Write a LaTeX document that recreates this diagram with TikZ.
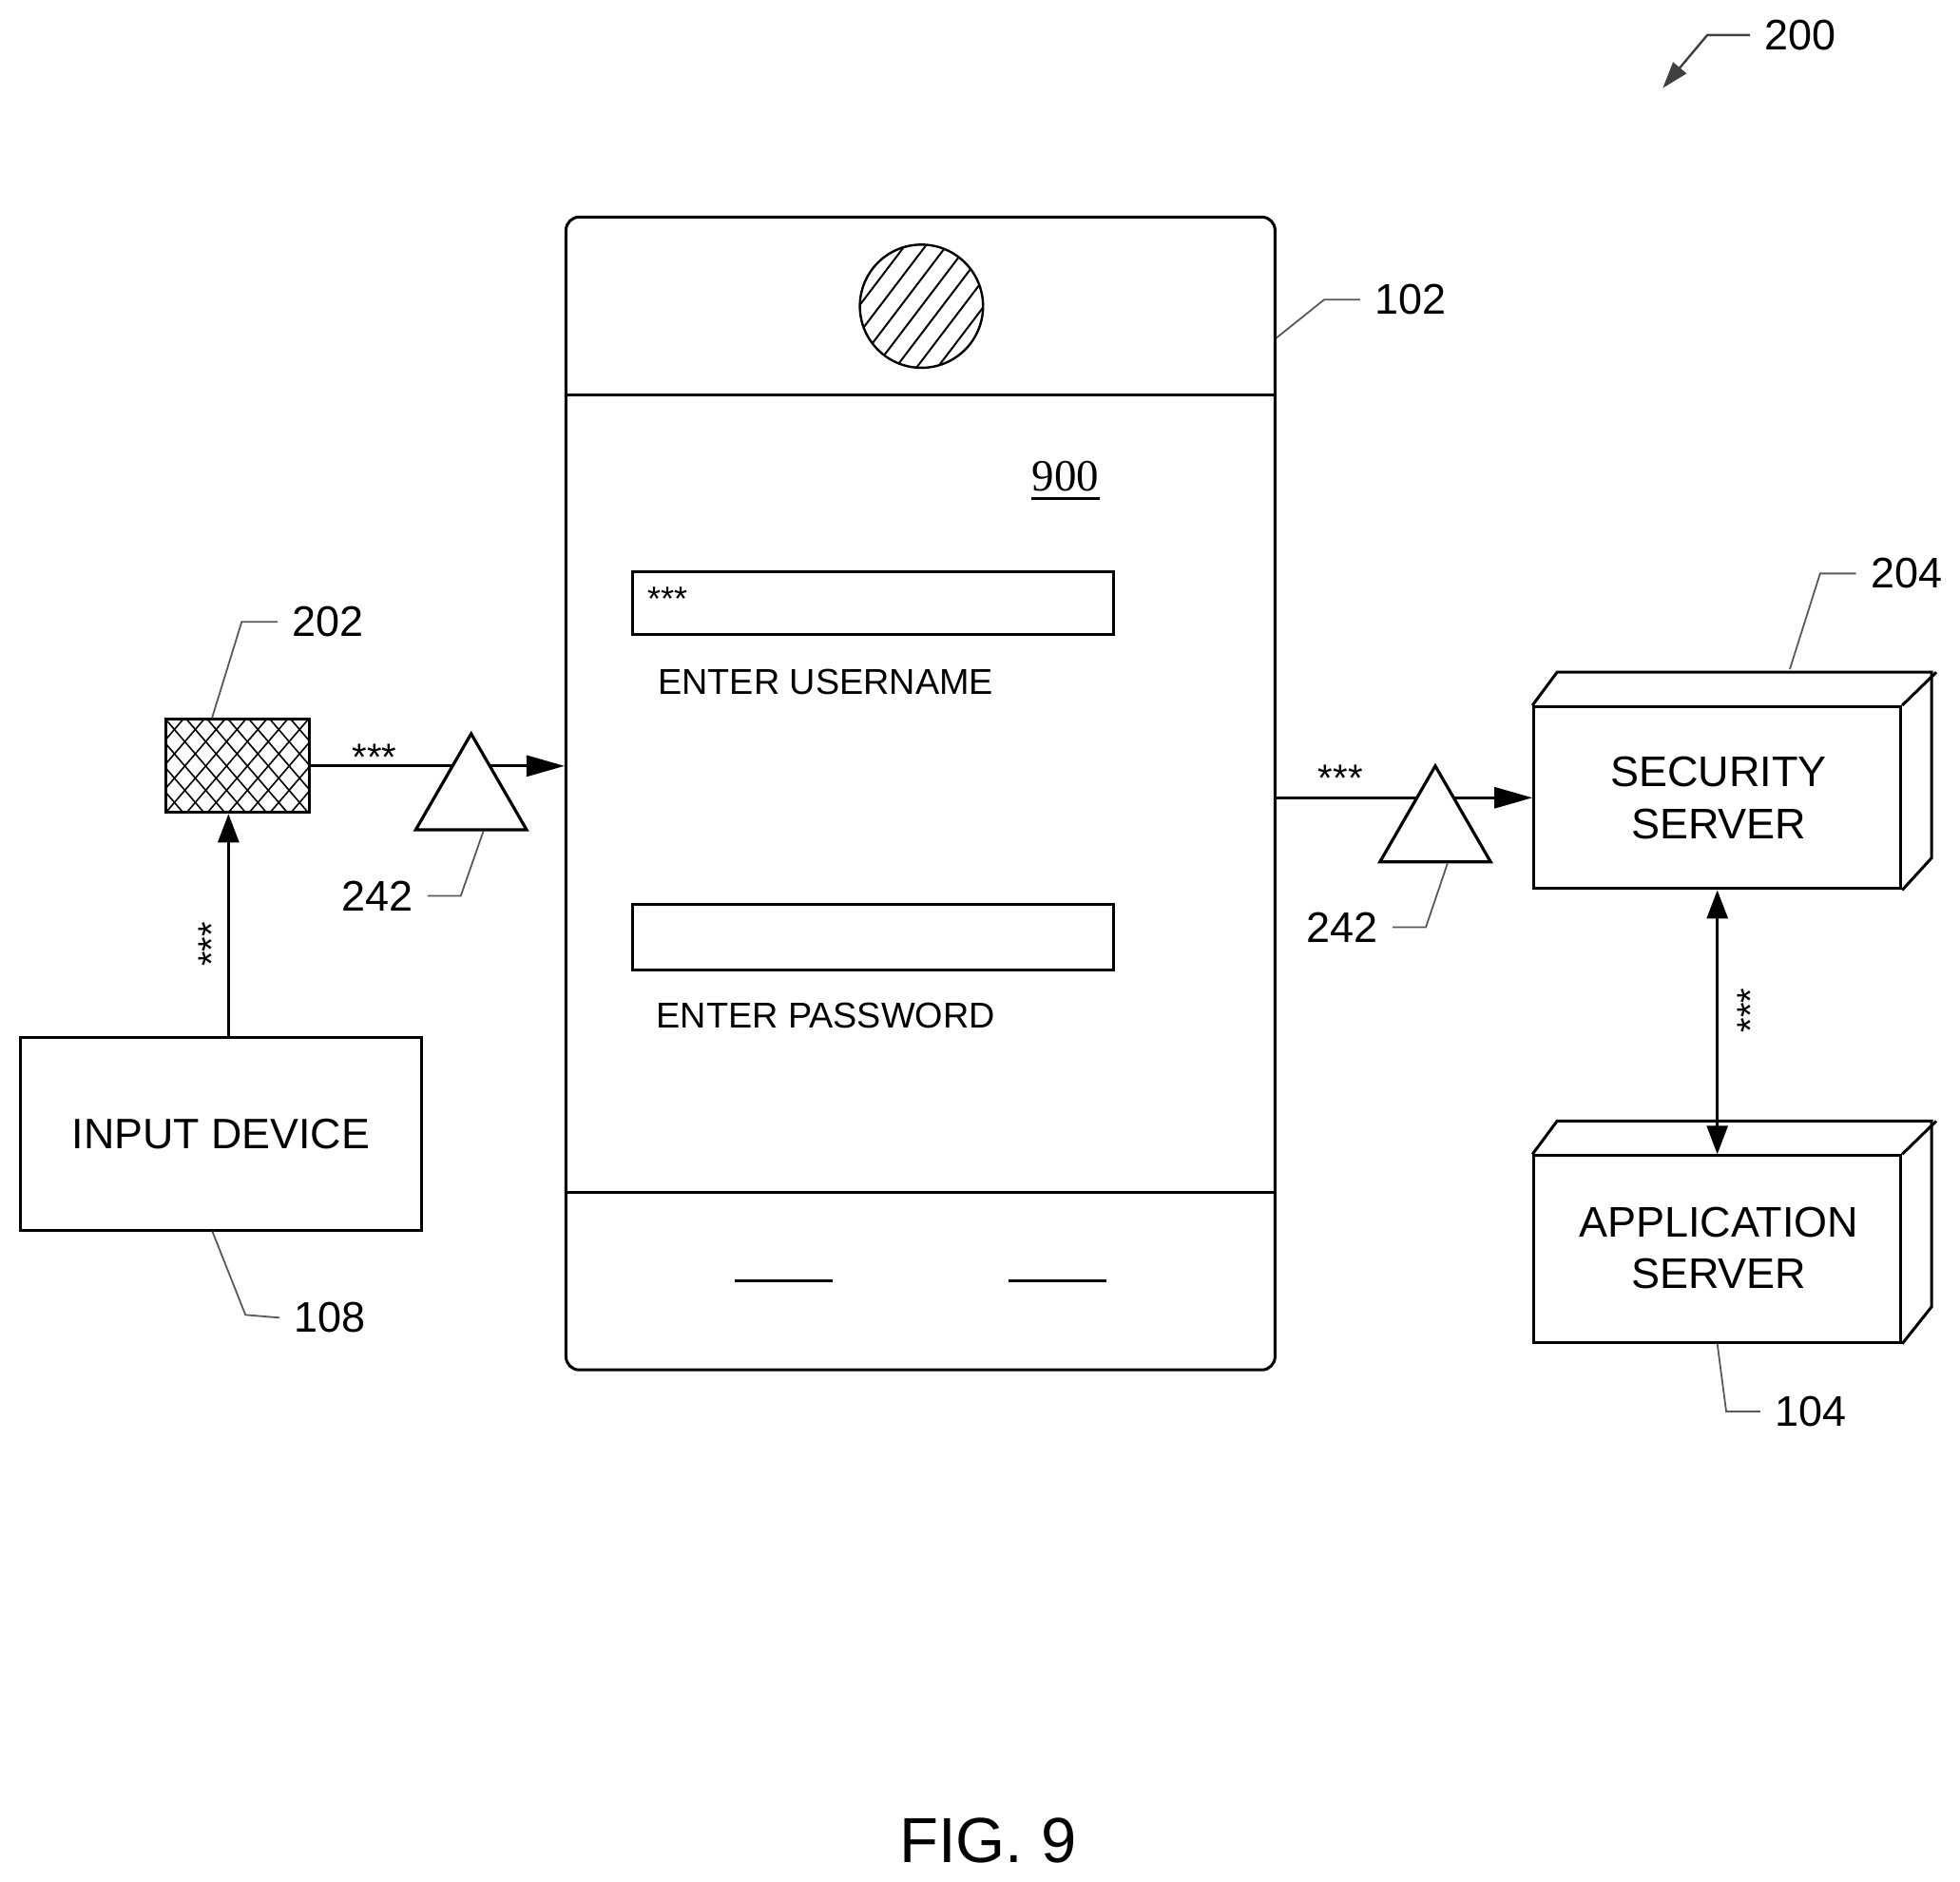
\documentclass[tikz,border=0pt]{standalone}
\usepackage{fontspec}
\setmainfont{Liberation Sans}
\newfontfamily\numfont{Liberation Serif}
\usepackage{tikz}
\usetikzlibrary{arrows.meta,shapes.geometric}

\begin{document}
\begin{tikzpicture}[x=0.4987pt,y=-0.4987pt,
  line/.style={line width=1.5pt,color=black},
  arrowline/.style={line width=1.4pt,>={Triangle[length=15pt,width=11pt]}},
  longtip/.style={line width=1.4pt,>={Triangle[length=20pt,width=11pt]}},
  leader/.style={line width=0.9pt,color=black!65},
  boxnode/.style={draw,line width=1.5pt,inner sep=0pt,align=center},
  ampnode/.style={draw,fill=white,line width=1.6pt,regular polygon,regular polygon sides=3,inner sep=0pt,minimum size=67.3pt},
  reftext/.style={font=\fontsize{22.5}{26}\selectfont,inner sep=7.5pt},
  stars/.style={font=\fontsize{20}{22}\selectfont,inner sep=0pt},
  fieldtext/.style={font=\fontsize{18.9}{22}\selectfont},
  servertext/.style={font=\fontsize{22.5}{27.5}\selectfont}]
\useasboundingbox (0,0) rectangle (2067.5,1984.3);
\node[boxnode,rounded corners=7pt,minimum width=373pt,minimum height=606.5pt] (device) at (971,837) {};
\coordinate (topbar) at (971,417);
\coordinate (botbar) at (971,1258);
\draw[line] (topbar -| device.west) -- (topbar -| device.east);
\draw[line] (botbar -| device.west) -- (botbar -| device.east);
\node[draw,circle,line width=1.2pt,inner sep=0pt,minimum size=64.8pt] (lens) at (972,323) {};
\begin{scope}
  \clip (972,323) circle [radius=32.4pt];
  \foreach \d in {-110,-88,-66,-44,-22,0,22,44,66,88,110}
    \draw[line width=1pt] ({\d+915},398) -- ({\d+1029},248);
\end{scope}
\node[font=\numfont\fontsize{23.5}{26}\selectfont,inner xsep=0pt,inner ysep=4pt] (screen) at (1124,502) {900};
\draw[line] (screen.south west) -- (screen.south east);
\node[boxnode,minimum width=253.3pt,minimum height=33pt] (userbox) at (921,636) {};
\node[stars,font=\fontsize{18}{22}\selectfont] (userstars) at (704,632) {***};
\node[fieldtext] (userlabel) at (871,719) {ENTER USERNAME};
\node[boxnode,minimum width=253.3pt,minimum height=34.4pt] (passbox) at (921,989) {};
\node[fieldtext] (passlabel) at (871,1071) {ENTER PASSWORD};
\coordinate (softleft) at (775,1351);
\coordinate (softright) at (1064,1351);
\draw[line,line width=1.2pt] (softleft) -- ++(103,0);
\draw[line,line width=1.2pt] (softright) -- ++(103,0);
\node[boxnode,minimum width=211pt,minimum height=101.2pt,font=\fontsize{22.4}{27}\selectfont] (input) at (233,1196) {INPUT DEVICE};
\begin{scope}
  \clip (175,759) rectangle (326,857);
  \foreach \d in {87,109,...,329} {
    \draw[line width=0.8pt] (\d,759) -- ({\d+84},857);
    \draw[line width=0.8pt] ({\d+84},759) -- (\d,857);
  }
\end{scope}
\node[boxnode,minimum width=75.3pt,minimum height=48.9pt] (reader) at (250.5,808) {};
\coordinate (inputtop) at (241,1095);
\draw[arrowline,->] (inputtop) -- (inputtop |- reader.south);
\node[stars,rotate=90] (inputstars) at (223,996) {***};
\draw[longtip,->] (reader.east) -- (device.west |- reader.east);
\node[stars] (readerstars) at (395,799) {***};
\node[ampnode] (ampleft) at (497,841.5) {};
\node[boxnode,minimum width=193pt,minimum height=95.7pt] (security) at (1811.5,841.5) {};
\node[servertext,align=center] (securitytext) at (1813,842) {SECURITY\\SERVER};
\node[boxnode,minimum width=193pt,minimum height=98.2pt] (application) at (1811.5,1317.5) {};
\node[servertext,align=center] (applicationtext) at (1813,1316.5) {APPLICATION\\SERVER};
\foreach \s in {security,application} {
  \draw[line] (\s.north west) -- ++(26,-35) -- ++(395,0) -- ++(0,196) -- (\s.south east);
  \draw[line] (\s.north east) -- ++(36,-35);
}
\draw[longtip,->] (device.east |- security.west) -- (security.west);
\node[stars] (securitystars) at (1414,821) {***};
\node[ampnode] (ampright) at (1514,875.5) {};
\draw[arrowline,<->] (security.south) -- (application.north);
\node[stars,rotate=90] (serverstars) at (1847,1066) {***};
\node[reftext] (lab200) at (1899,37) {200};
\node[reftext] (lab102) at (1488,316) {102};
\node[reftext] (lab202) at (346,656) {202};
\node[reftext] (lab204) at (2011,605) {204};
\node[reftext] (lab242a) at (398,945) {242};
\node[reftext] (lab242b) at (1416,978) {242};
\node[reftext] (lab108) at (348,1390) {108};
\node[reftext] (lab104) at (1910,1489) {104};
\draw[leader] (lab102.west) -- ++(-38,0) -- (device.52.85);
\draw[leader] (lab202.west) -- ++(-38,0) -- (reader.118);
\draw[leader] (lab204.west) -- ++(-38,0) -- ++(-32,101);
\draw[leader] (lab242a.east) -- ++(35,0) -- (ampleft.-70);
\draw[leader] (lab242b.east) -- ++(35,0) -- (ampright.-70);
\draw[leader] (lab108.west) -- ++(-36,-3) -- (input.265);
\draw[leader] (lab104.west) -- ++(-36,0) -- (application.south);
\draw[line width=1.2pt,color=black!75,>={Triangle[length=14pt,width=9pt]},->] (lab200.west) -- ++(-45,0) -- ++(-47,56);
\node[font=\fontsize{33.5}{38}\selectfont] (figlabel) at (1042,1942) {FIG. 9};
\end{tikzpicture}
\end{document}
